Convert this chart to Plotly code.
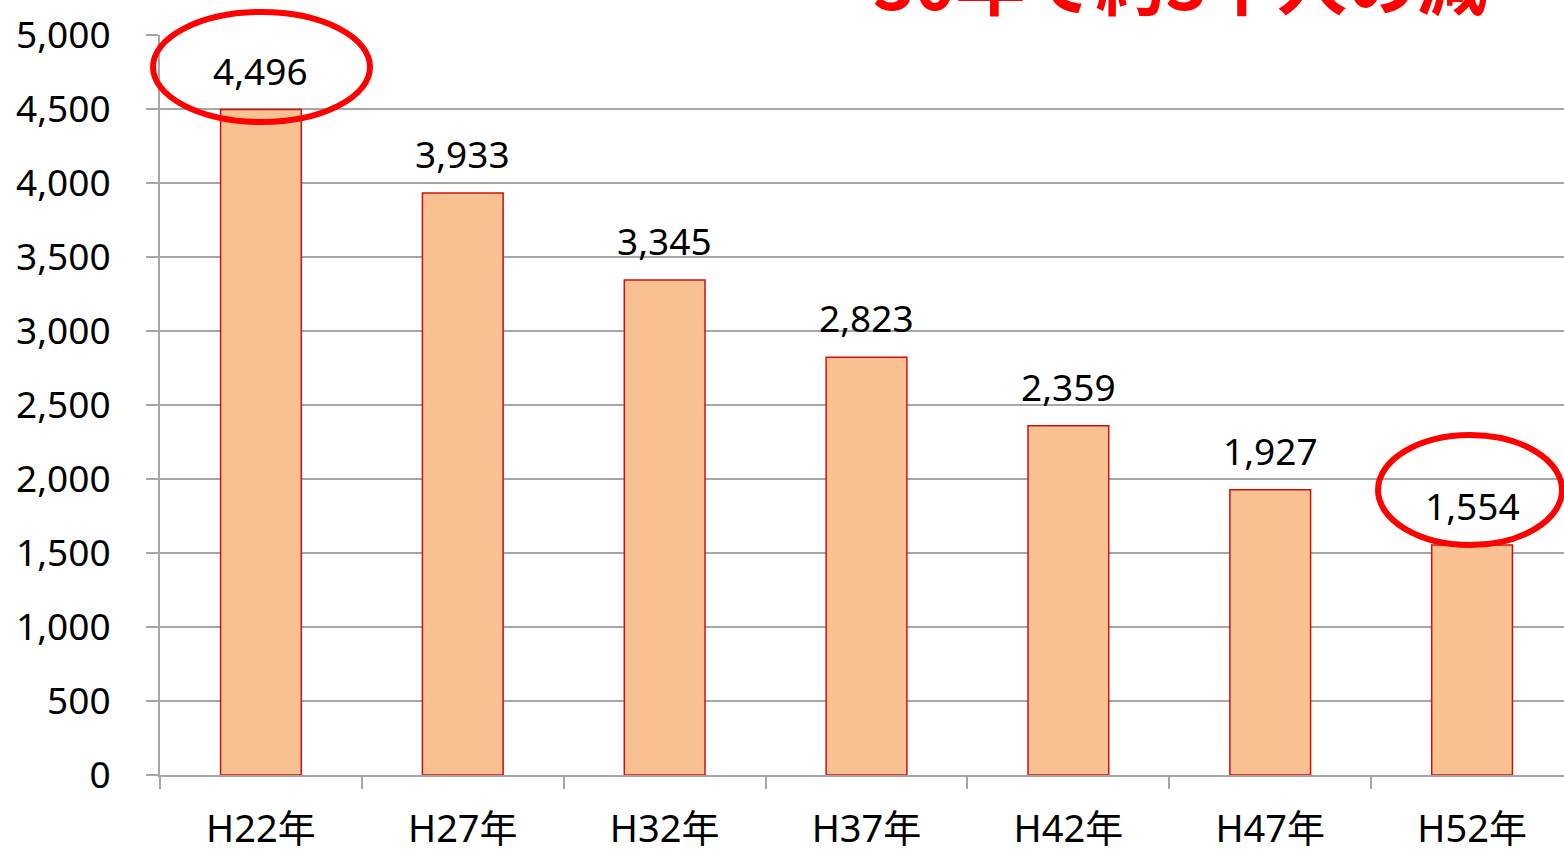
import plotly.graph_objects as go

categories = ["H22年", "H27年", "H32年", "H37年", "H42年", "H47年", "H52年"]
values = [4496, 3933, 3345, 2823, 2359, 1927, 1554]
y_ticks = [0, 500, 1000, 1500, 2000, 2500, 3000, 3500, 4000, 4500, 5000]
y_tick_labels = [f"{v:,}" for v in y_ticks]
headline = "30年で約3千人の減"

W, H = 1573, 849
ML, MR, MT, MB = 160, 0, 35, 74
PW, PH = W - ML - MR, H - MT - MB

def px_x(x):
    return (x - ML) / PW

def px_y(y):
    return (H - MB - y) / PH

grid = "#a6a6a6"
font = "Noto Sans, Noto Sans CJK JP"

fig = go.Figure()
fig.add_trace(go.Bar(
    x=categories, y=values,
    marker=dict(color="#f9c091", line=dict(color="#d01010", width=1.5)),
    width=0.4,
    hoverinfo="skip",
))

for c, v in zip(categories, values):
    fig.add_annotation(x=c, y=v, xref="x", yref="y", text=f"{v:,}",
                       showarrow=False, yanchor="bottom", yshift=12,
                       font=dict(family=font, size=37, color="black"))

fig.add_annotation(x=px_x(1180), y=px_y(-20), xref="paper", yref="paper",
                   text=headline, showarrow=False, xanchor="center", yanchor="middle",
                   font=dict(family="Noto Sans CJK JP", size=70, color="#ff0000", weight=700))

for (x0, y0, x1, y1) in [(153, 12, 370, 122), (1378, 435, 1562, 545)]:
    fig.add_shape(type="circle", xref="paper", yref="paper",
                  x0=px_x(x0), x1=px_x(x1), y0=px_y(y1), y1=px_y(y0),
                  line=dict(color="#ff0000", width=6))

fig.update_layout(
    width=W, height=H,
    margin=dict(l=ML, r=MR, t=MT, b=MB, pad=0),
    paper_bgcolor="white", plot_bgcolor="white",
    showlegend=False,
    font=dict(family=font, size=37, color="black"),
    xaxis=dict(
        type="category", tickson="boundaries", ticks="outside", ticklen=12,
        tickcolor=grid, tickwidth=2, showline=True, linecolor=grid, linewidth=2,
        showgrid=False, tickfont=dict(family=font, size=38),
        ticklabelstandoff=19, automargin=False,
    ),
    yaxis=dict(
        range=[0, 5000], tickvals=y_ticks, ticktext=y_tick_labels,
        ticks="outside", ticklen=12, tickcolor=grid, tickwidth=2,
        showline=True, linecolor=grid, linewidth=2,
        showgrid=True, gridcolor=grid, gridwidth=2, zeroline=False,
        tickfont=dict(family=font, size=37), ticklabelstandoff=28,
        automargin=False,
    ),
)

fig.write_html("out.html", config={"displayModeBar": False},
               post_script="document.body.style.margin='0';document.body.style.overflow='hidden';")
